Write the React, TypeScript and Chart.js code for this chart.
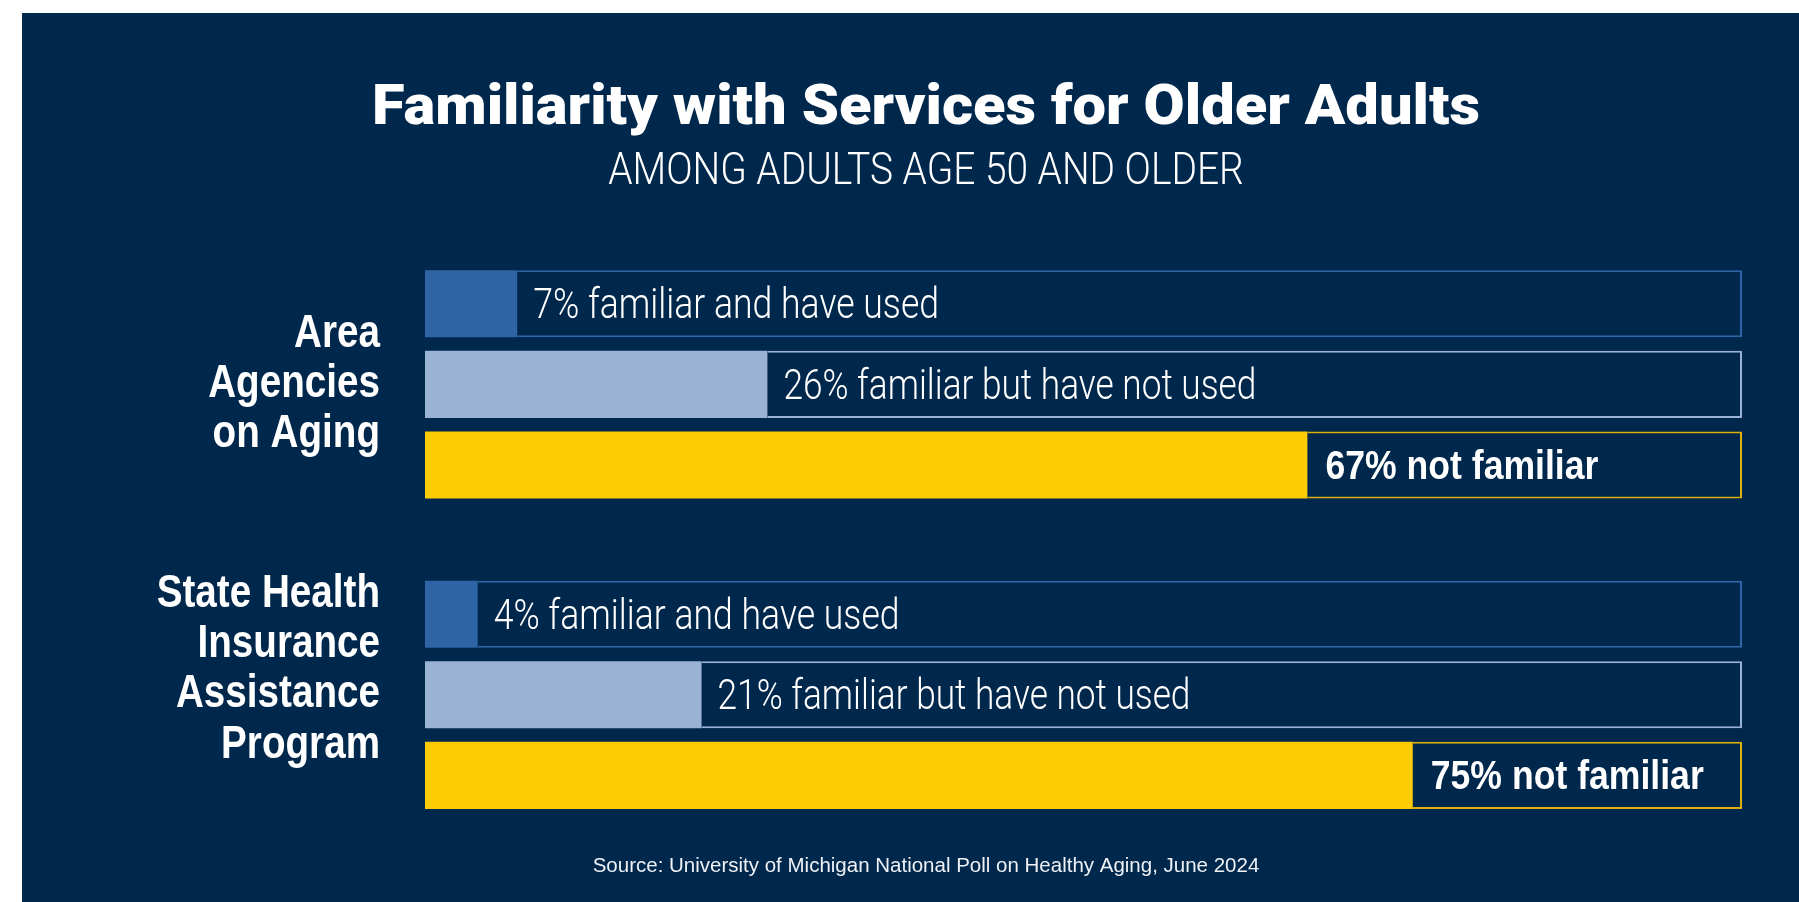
import React, { useEffect, useRef } from "react";
import { Chart, registerables } from "chart.js";

Chart.register(...registerables);

// ---- Data ----
const categories: string[][] = [
  ["Area", "Agencies", "on Aging"],
  ["State Health", "Insurance", "Assistance", "Program", ""],
];
const seriesLabels = ["familiar and have used", "familiar but have not used", "not familiar"];
const familiarUsed = [7, 4];
const familiarNotUsed = [26, 21];
const notFamiliar = [67, 75];
const seriesValues = [familiarUsed, familiarNotUsed, notFamiliar];
const scaleMax = 100;

const titleText = "Familiarity with Services for Older Adults";
const subtitleText = "AMONG ADULTS AGE 50 AND OLDER";
const sourceText = "Source: University of Michigan National Poll on Healthy Aging, June 2024";

// ---- Styles ----
const NAVY = "#00274C";
const seriesColors = ["#2F65A7", "#9AB3D5", "#FFCB05"];
const seriesBorders = ["#2F65A7", "#9AB3D5", "#DDB10C"];
const seriesBold = [false, false, true];
const SANS = "'Liberation Sans', Arial, sans-serif";
const LIGHT = "Roboto, 'Liberation Sans', sans-serif";
const HEAVY = "Roboto, 'Liberation Sans', sans-serif";
const NARROW_RATIO = 0.82; // Arial -> Arial Narrow width ratio
const TITLE_EXTEND = 1.085;
const CAT_CONDENSE = 0.84;

const measure = (ctx: CanvasRenderingContext2D, text: string, font: string) => {
  ctx.save();
  ctx.font = font;
  const w = ctx.measureText(text).width;
  ctx.restore();
  return w;
};

// factor that squeezes `font` so the text is as wide as a narrow (condensed) Arial at the same size
const narrowFactor = (ctx: CanvasRenderingContext2D, text: string, font: string, refFont: string, ratio = NARROW_RATIO) => {
  const w = measure(ctx, text, font);
  const r = measure(ctx, text, refFont);
  return w > 0 ? (ratio * r) / w : ratio;
};

const drawCondensed = (
  ctx: CanvasRenderingContext2D,
  text: string,
  x: number,
  y: number,
  font: string,
  k: number
) => {
  ctx.save();
  ctx.translate(x, y);
  ctx.scale(k, 1);
  ctx.font = font;
  ctx.fillText(text, 0, 0);
  ctx.restore();
};

const backgroundPlugin = {
  id: "navyBackground",
  beforeDraw(chart: any) {
    const { ctx, width, height } = chart;
    ctx.save();
    ctx.fillStyle = NAVY;
    ctx.fillRect(0, 0, width, height);
    ctx.restore();
  },
};

// horizontal width adjustment of the title (heavy, extended) and subtitle (light, condensed)
const headingWidthPlugin = {
  id: "headingWidth",
  afterLayout(chart: any) {
    chart.boxes.forEach((box: any) => {
      if (!box || !box.options || box._widthAdjusted) return;
      const text = box.options.text;
      if (text !== titleText && text !== subtitleText) return;
      box._widthAdjusted = true;
      const orig = box.draw;
      box.draw = function (...args: any[]) {
        const ctx: CanvasRenderingContext2D = this.ctx;
        const f = this.options.font;
        let k = TITLE_EXTEND;
        if (text === subtitleText) {
          const font = `${f.weight} ${f.size}px ${f.family}`;
          k = narrowFactor(ctx, subtitleText, font, `normal ${f.size}px ${SANS}`);
        }
        const cx = (this.left + this.right) / 2;
        ctx.save();
        ctx.translate(cx, 0);
        ctx.scale(k, 1);
        ctx.translate(-cx, 0);
        orig.apply(this, args);
        ctx.restore();
      };
    });
  },
};

const barLabelPlugin = {
  id: "barLabels",
  afterDatasetsDraw(chart: any) {
    const ctx: CanvasRenderingContext2D = chart.ctx;
    seriesValues.forEach((vals, i) => {
      const meta = chart.getDatasetMeta(i * 2 + 1);
      meta.data.forEach((el: any, j: number) => {
        const { base, y } = el.getProps(["base", "y"], true);
        const text = `${vals[j]}% ${seriesLabels[i]}`;
        ctx.save();
        ctx.fillStyle = "#ffffff";
        ctx.textAlign = "left";
        ctx.textBaseline = "middle";
        if (seriesBold[i]) {
          drawCondensed(ctx, text, base + 18, y + 3, `bold 40px ${SANS}`, 0.89);
        } else {
          const font = `300 42px ${LIGHT}`;
          const k = narrowFactor(ctx, text, font, `normal 42px ${SANS}`);
          drawCondensed(ctx, text, base + 16, y + 4, font, k);
        }
        ctx.restore();
      });
    });
  },
};

const sourcePlugin = {
  id: "sourceNote",
  afterDraw(chart: any) {
    const { ctx, width, height } = chart;
    ctx.save();
    ctx.font = `20.5px ${SANS}`;
    ctx.fillStyle = "#eef1f5";
    ctx.textAlign = "center";
    ctx.textBaseline = "middle";
    ctx.fillText(sourceText, width / 2, height - 36);
    ctx.restore();
  },
};

const condenseAxisLabels = (scale: any) => {
  if (scale._condensed) return;
  scale._condensed = true;
  const orig = scale.drawLabels;
  scale.drawLabels = function (area: any) {
    const ctx = this.ctx;
    const x0 = this.right - this.options.ticks.padding;
    ctx.save();
    ctx.translate(x0, 0);
    ctx.scale(CAT_CONDENSE, 1);
    ctx.translate(-x0, 0);
    orig.call(this, area);
    ctx.restore();
  };
};

export default function App() {
  const ref = useRef<HTMLCanvasElement>(null);

  useEffect(() => {
    if (!ref.current) return;
    const datasets: any[] = [];
    seriesValues.forEach((vals, i) => {
      datasets.push({
        label: seriesLabels[i],
        data: vals,
        backgroundColor: seriesColors[i],
        borderWidth: 0,
        stack: "s" + i,
        categoryPercentage: 0.779,
        barPercentage: 0.832,
      });
      datasets.push({
        label: seriesLabels[i] + " (remainder)",
        data: vals.map((v) => scaleMax - v),
        backgroundColor: NAVY,
        borderColor: seriesBorders[i],
        borderWidth: 2,
        borderSkipped: "start",
        stack: "s" + i,
        categoryPercentage: 0.779,
        barPercentage: 0.832,
      });
    });

    const chart = new Chart(ref.current, {
      type: "bar",
      data: { labels: categories as any, datasets },
      options: {
        indexAxis: "y",
        responsive: false,
        animation: false,
        events: [],
        layout: { padding: { left: 88, right: 88, top: 0, bottom: 52 } },
        scales: {
          x: { min: 0, max: scaleMax, stacked: true, display: false },
          y: {
            type: "category",
            grid: { display: false, drawTicks: false },
            border: { display: false },
            ticks: {
              color: "#ffffff",
              autoSkip: false,
              padding: 45,
              font: { family: SANS, size: 46, weight: "bold", lineHeight: 1.09 },
            },
            afterFit: (s: any) => {
              s.width = 315;
              s.paddingTop = 0;
              s.paddingBottom = 0;
              condenseAxisLabels(s);
            },
          },
        },
        plugins: {
          legend: { display: false },
          tooltip: { enabled: false },
          title: {
            display: true,
            text: titleText,
            color: "#ffffff",
            font: { family: HEAVY, size: 55, weight: "900", lineHeight: 1.2 },
            padding: { top: 64, bottom: 1 },
          },
          subtitle: {
            display: true,
            text: subtitleText,
            color: "#ffffff",
            font: { family: LIGHT, size: 43.5, weight: "300", lineHeight: 1.2 },
            padding: { top: 3, bottom: 30 },
          },
        },
      },
      plugins: [backgroundPlugin, headingWidthPlugin, barLabelPlugin, sourcePlugin],
    } as any);
    return () => chart.destroy();
  }, []);

  return (
    <div
      style={{
        position: "fixed",
        left: 0,
        top: 0,
        width: 1799,
        height: 902,
        background: "#ffffff",
        overflow: "hidden",
      }}
    >
      <div
        style={{
          position: "absolute",
          left: 22,
          top: 13,
          width: 1777,
          height: 889,
          overflow: "hidden",
          background: NAVY,
        }}
      >
        <canvas ref={ref} width={1808} height={889} style={{ display: "block", width: 1808, height: 889 }} />
      </div>
    </div>
  );
}
